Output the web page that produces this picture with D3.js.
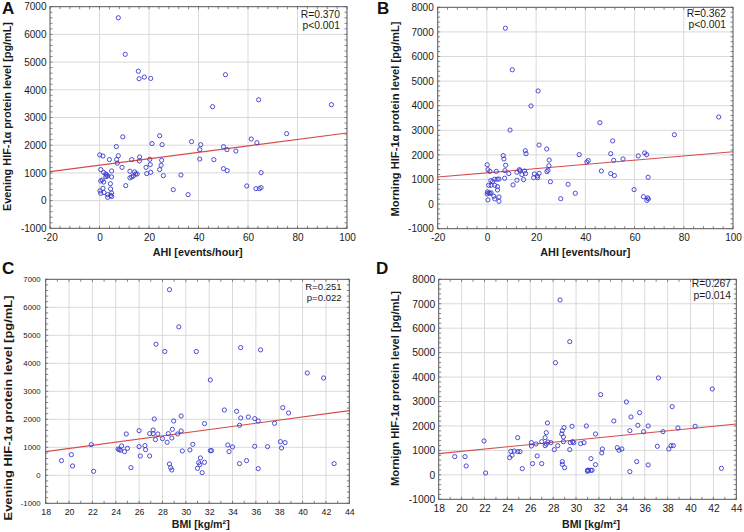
<!DOCTYPE html>
<html><head><meta charset="utf-8">
<script src="https://cdn.jsdelivr.net/npm/d3@7"></script>
<style>
body{margin:0;background:#fff}
svg{display:block}
text{font-family:"Liberation Sans",Arial,sans-serif}
</style>
</head><body>
<svg id="c" width="744" height="532"></svg>
<script>
// ---------- DATA ----------
// Panel A: AHI vs evening HIF-1α
const ahiA = [7.6,10.4,15.7,16.0,18.1,20.7,50.9,45.7,64.3,93.7,75.6,61.3,63.6,9.4,6.8,21.2,24.3,25.3,37.2,40.9,40.5,40.5,50.1,51.5,55.1,46.2,50.1,51.6,65.3,59.5,63.2,64.6,65.3,0.1,1.4,4.0,7.6,6.9,7.2,13.0,16.2,16.1,20.3,20.5,18.8,25.1,24.9,24.3,20.7,19.1,25.8,32.9,29.8,35.8,9.1,0.5,1.6,2.5,2.9,3.3,4.9,4.9,2.6,0.5,1.1,1.7,4.4,10.6,12.3,13.0,12.3,14.2,14.6,15.2,13.7,1.4,4.5,0.2,0.5,1.8,4.9,4.6,3.3,3.3,4.9];
const eveningA = [6600,5280,4670,4400,4460,4410,4545,3390,3640,3463,2417,2224,2090,2300,1950,2060,2340,2020,2130,2020,1840,1500,1947,1840,1790,1478,1154,1082,1010,528,432,432,470,1650,1610,1480,1620,1480,1350,1480,1575,1430,1490,1300,1200,1455,1275,1120,1020,975,900,925,395,215,1200,1120,1020,960,925,890,1070,855,865,710,745,670,610,540,1060,855,820,1035,960,960,890,445,420,350,265,290,275,190,215,120,145];
const fitAx = [-20, 100], fitAy = [1045, 2440];

// Panel B: AHI vs morning HIF-1α
const ahiB = [7.5,10.3,20.8,17.9,9.4,45.9,76.2,94.2,21.2,24.3,15.6,15.9,6.6,6.9,7.6,0.1,0.4,1.2,3.8,7.3,13.2,37.5,40.6,41.2,50.3,51.1,51.5,55.3,61.5,64.1,64.9,25.3,25.2,24.8,24.4,46.5,50.3,51.8,65.5,59.8,63.6,65.3,65.6,65.0,33.0,35.9,30.0,25.8,21.2,20.5,20.6,19.3,19.0,15.3,15.7,14.2,14.9,13.4,12.2,12.2,8.9,10.6,7.2,4.9,4.2,3.1,2.3,1.6,0.7,1.7,3.2,4.3,4.3,0.2,0.8,1.7,0.1,1.2,2.8,3.2,4.9,4.9,0.4];
const morningB = [7150,5460,4600,3990,3010,3310,2820,3540,2400,2240,2170,2050,1970,1835,1580,1600,1400,1330,1330,1360,1400,2010,1710,1770,2050,2570,1780,1835,1960,2080,2010,1790,1560,1375,1320,1345,1240,1160,1090,590,300,250,210,150,805,440,220,910,1250,1145,1075,1225,1075,1345,1240,1200,995,1360,970,1295,1240,780,1050,1020,1010,1010,915,955,765,765,765,710,575,495,455,455,415,440,320,210,290,115,170];
const fitBx = [-20, 100], fitBy = [1100, 2130];

// Panel C: BMI vs evening HIF-1α
const bmiC = [28.6,29.4,27.45,28.2,30.9,34.7,36.4,32.1,40.4,41.8,38.3,38.8,33.3,34.35,34.7,35.35,35.9,36.2,37.6,34.6,31.6,29.6,28.96,27.3,26.0,24.9,27.2,26.9,27.2,27.6,28.5,29.6,29.3,28.85,28.8,28.0,28.4,27.4,30.6,21.9,26.0,26.5,24.5,26.55,24.2,24.3,24.4,25.0,24.75,26.1,26.9,29.7,30.35,32.1,32.2,33.6,34.0,33.7,35.9,37.0,38.1,38.5,38.2,31.25,31.1,31.6,31.2,31.0,31.4,28.6,28.7,28.8,34.6,35.2,36.2,42.7,19.35,20.2,20.3,22.1,25.3];
const eveningC = [6630,5300,4680,4420,4420,4560,4480,3405,3655,3476,2417,2226,2333,2286,2048,2083,2024,1940,1857,1786,1845,2119,1940,2012,1595,1476,1619,1488,1488,1476,1488,1583,1476,1643,1333,1310,1179,1274,1107,1095,1024,1060,1048,917,940,917,893,964,845,690,690,869,905,881,881,1083,1012,845,1036,1024,1202,1167,976,619,452,464,381,250,95,405,274,190,417,524,238,417,524,738,333,143,274];
const fitCx = [18, 44], fitCy = [845, 2310];

// Panel D: BMI vs morning HIF-1α
const bmiD = [28.6,29.45,28.2,37.2,41.9,32.15,34.4,35.55,38.4,34.8,33.3,27.5,29.65,30.9,28.95,35.4,36.3,38.9,40.4,37.6,35.9,34.7,31.7,28.8,28.75,27.4,27.3,28.9,24.9,21.96,26.1,26.1,26.5,27.0,27.4,27.55,27.3,27.8,28.9,29.5,29.7,29.8,30.4,30.7,28.4,28.1,29.45,32.3,32.25,33.6,33.75,34.0,37.1,38.1,38.3,38.5,24.3,24.4,24.2,24.6,24.9,25.1,26.6,26.2,27.0,28.8,28.8,29.0,31.3,31.7,31.0,31.1,31.3,31.4,31.0,25.3,22.1,19.4,20.3,20.4,34.7,35.3,36.3,42.7];
const morningD = [7155,5450,4590,3964,3514,3282,2982,2545,2791,2368,2205,2123,1986,2000,1932,2027,2000,1918,1986,1768,1768,1809,1673,1809,1673,1727,1523,1550,1523,1386,1318,1182,1264,1359,1264,1345,1195,1318,1359,1318,1359,1318,1277,1318,1195,1032,1032,1059,896,1113,1005,1059,1168,1059,1195,1195,964,800,705,977,950,950,773,459,459,541,432,295,664,418,186,186,186,186,145,255,77,745,745,364,132,541,405,268];
const fitDx = [18, 44], fitDy = [870, 2080];

const ahiTicks = [-20,0,20,40,60,80,100];
const bmiTicks = [18,20,22,24,26,28,30,32,34,36,38,40,42,44];
const eveTicks = [-1000,0,1000,2000,3000,4000,5000,6000,7000];
const mornTicks = [-1000,0,1000,2000,3000,4000,5000,6000,7000,8000];

// ---------- DRAW ----------
const svg = d3.select("#c");
const FONT = "'Liberation Sans', Arial, sans-serif";

const panels = [
  {letter:"A", lx:2, ly:14, xs:ahiA, ys:eveningA, fx:fitAx, fy:fitAy, xt:ahiTicks, yt:eveTicks,
   l:50, r:347, t:6.7, b:228.3, xMinor:4, yMinor:200,
   xfs:10, yfs:10, xPad:5.5, yPad:3.5,
   xTitle:"AHI [events/hour]", xTx:197.7, xTy:256, xTLen:90,
   yTitle:"Evening HIF-1α protein level [pg/mL]", yTx:10.5, yTy:116.5, yTLen:189,
   r1:"R=0.370", r2:"p<0.001", rx:340, ry1:18, ry2:29.3, rfs:10.3},
  {letter:"B", lx:377, ly:14, xs:ahiB, ys:morningB, fx:fitBx, fy:fitBy, xt:ahiTicks, yt:mornTicks,
   l:437.7, r:733, t:7.3, b:228.7, xMinor:4, yMinor:200,
   xfs:10, yfs:10, xPad:5, yPad:4,
   xTitle:"AHI [events/hour]", xTx:585.3, xTy:256, xTLen:90,
   yTitle:"Morning HIF-1α protein level [pg/mL]", yTx:399, yTy:119, yTLen:195,
   r1:"R=0.362", r2:"p<0.001", rx:726, ry1:17.3, ry2:28.3, rfs:10.3},
  {letter:"C", lx:2, ly:273.5, xs:bmiC, ys:eveningC, fx:fitCx, fy:fitCy, xt:bmiTicks, yt:eveTicks,
   l:45.7, r:349.3, t:279.3, b:503.3, xMinor:1, yMinor:200,
   xfs:8.8, yfs:7.8, xPad:5.5, yPad:5,
   xTitle:"BMI [kg/m²]", xTx:200.7, xTy:527.5, xTLen:58,
   yTitle:"Evening HIF-1α protein level [pg/mL]", yTx:11.5, yTy:408, yTLen:225,
   r1:"R=0.251", r2:"p=0.022", rx:341.7, ry1:290, ry2:300.7, rfs:9.6},
  {letter:"D", lx:376, ly:273.5, xs:bmiD, ys:morningD, fx:fitDx, fy:fitDy, xt:bmiTicks, yt:mornTicks,
   l:438.7, r:736.3, t:279.3, b:499.3, xMinor:1, yMinor:200,
   xfs:10.3, yfs:10.3, xPad:5, yPad:3.5,
   xTitle:"BMI [kg/m²]", xTx:591, xTy:527.5, xTLen:58,
   yTitle:"Mornign HIF-1α protein level [pg/mL]", yTx:399, yTy:388.5, yTLen:195,
   r1:"R=0.267", r2:"p=0.014", rx:731, ry1:287, ry2:299, rfs:10.3}
];

function range(a,b,s){const out=[];for(let v=a; v<=b+1e-9; v+=s) out.push(+v.toFixed(6));return out;}

panels.forEach(p=>{
  const g = svg.append("g");
  const xd = [p.xt[0], p.xt[p.xt.length-1]];
  const yd = [p.yt[0], p.yt[p.yt.length-1]];
  const x = d3.scaleLinear().domain(xd).range([p.l,p.r]);
  const y = d3.scaleLinear().domain(yd).range([p.b,p.t]);

  // grid
  g.selectAll("line.vg").data(p.xt.slice(1,-1)).join("line")
    .attr("x1",d=>x(d)).attr("x2",d=>x(d)).attr("y1",p.t).attr("y2",p.b)
    .attr("stroke","#d9d9d9").attr("stroke-width",1);
  g.selectAll("line.hg").data(p.yt.slice(1,-1)).join("line")
    .attr("y1",d=>y(d)).attr("y2",d=>y(d)).attr("x1",p.l).attr("x2",p.r)
    .attr("stroke","#d9d9d9").attr("stroke-width",1);

  // minor ticks (inward, all four sides)
  const xm = range(xd[0], xd[1], p.xMinor);
  const ym = range(yd[0], yd[1], p.yMinor);
  const tl = 2.5;
  const tickG = g.append("g").attr("stroke","#666").attr("stroke-width",0.8);
  xm.forEach(v=>{
    tickG.append("line").attr("x1",x(v)).attr("x2",x(v)).attr("y1",p.b).attr("y2",p.b-tl);
    tickG.append("line").attr("x1",x(v)).attr("x2",x(v)).attr("y1",p.t).attr("y2",p.t+tl);
  });
  ym.forEach(v=>{
    tickG.append("line").attr("y1",y(v)).attr("y2",y(v)).attr("x1",p.l).attr("x2",p.l+tl);
    tickG.append("line").attr("y1",y(v)).attr("y2",y(v)).attr("x1",p.r).attr("x2",p.r-tl);
  });

  // fit line
  g.append("line")
    .attr("x1",x(p.fx[0])).attr("y1",y(p.fy[0]))
    .attr("x2",x(p.fx[1])).attr("y2",y(p.fy[1]))
    .attr("stroke","#d44c4c").attr("stroke-width",1.1);

  // points
  g.selectAll("circle").data(p.xs.map((v,i)=>[v,p.ys[i]])).join("circle")
    .attr("cx",d=>x(d[0])).attr("cy",d=>y(d[1])).attr("r",2.1)
    .attr("fill","none").attr("stroke","#3a3ad0").attr("stroke-width",0.9);

  // border
  g.append("rect").attr("x",p.l).attr("y",p.t).attr("width",p.r-p.l).attr("height",p.b-p.t)
    .attr("fill","none").attr("stroke","#555").attr("stroke-width",1);

  // axes labels (plain hyphen for negatives)
  const fmt = d => String(d);
  const ax = g.append("g").attr("transform",`translate(0,${p.b})`)
    .call(d3.axisBottom(x).tickValues(p.xt).tickSize(0).tickPadding(p.xPad).tickFormat(fmt));
  ax.select(".domain").remove();
  ax.attr("font-family",FONT).attr("font-size",p.xfs);
  ax.selectAll("text").attr("fill","#1a1a1a");

  const ay = g.append("g").attr("transform",`translate(${p.l},0)`)
    .call(d3.axisLeft(y).tickValues(p.yt).tickSize(0).tickPadding(p.yPad).tickFormat(fmt));
  ay.select(".domain").remove();
  ay.attr("font-family",FONT).attr("font-size",p.yfs);
  ay.selectAll("text").attr("fill","#1a1a1a");

  // titles
  g.append("text").attr("x",p.xTx).attr("y",p.xTy).attr("text-anchor","middle")
    .attr("font-weight","bold").attr("font-size",11.5).attr("fill","#1a1a1a")
    .attr("textLength",p.xTLen).attr("lengthAdjust","spacingAndGlyphs").text(p.xTitle);
  g.append("text").attr("transform",`translate(${p.yTx},${p.yTy}) rotate(-90)`).attr("text-anchor","middle")
    .attr("font-weight","bold").attr("font-size",11.5).attr("fill","#1a1a1a")
    .attr("textLength",p.yTLen).attr("lengthAdjust","spacingAndGlyphs").text(p.yTitle);

  // stats
  g.append("text").attr("x",p.rx).attr("y",p.ry1).attr("text-anchor","end")
    .attr("font-size",p.rfs).attr("fill","#1a1a1a").text(p.r1);
  g.append("text").attr("x",p.rx).attr("y",p.ry2).attr("text-anchor","end")
    .attr("font-size",p.rfs).attr("fill","#1a1a1a").text(p.r2);

  // panel letter
  g.append("text").attr("x",p.lx).attr("y",p.ly).attr("font-weight","bold")
    .attr("font-size",17).attr("fill","#111").text(p.letter);
});
</script>
</body></html>
